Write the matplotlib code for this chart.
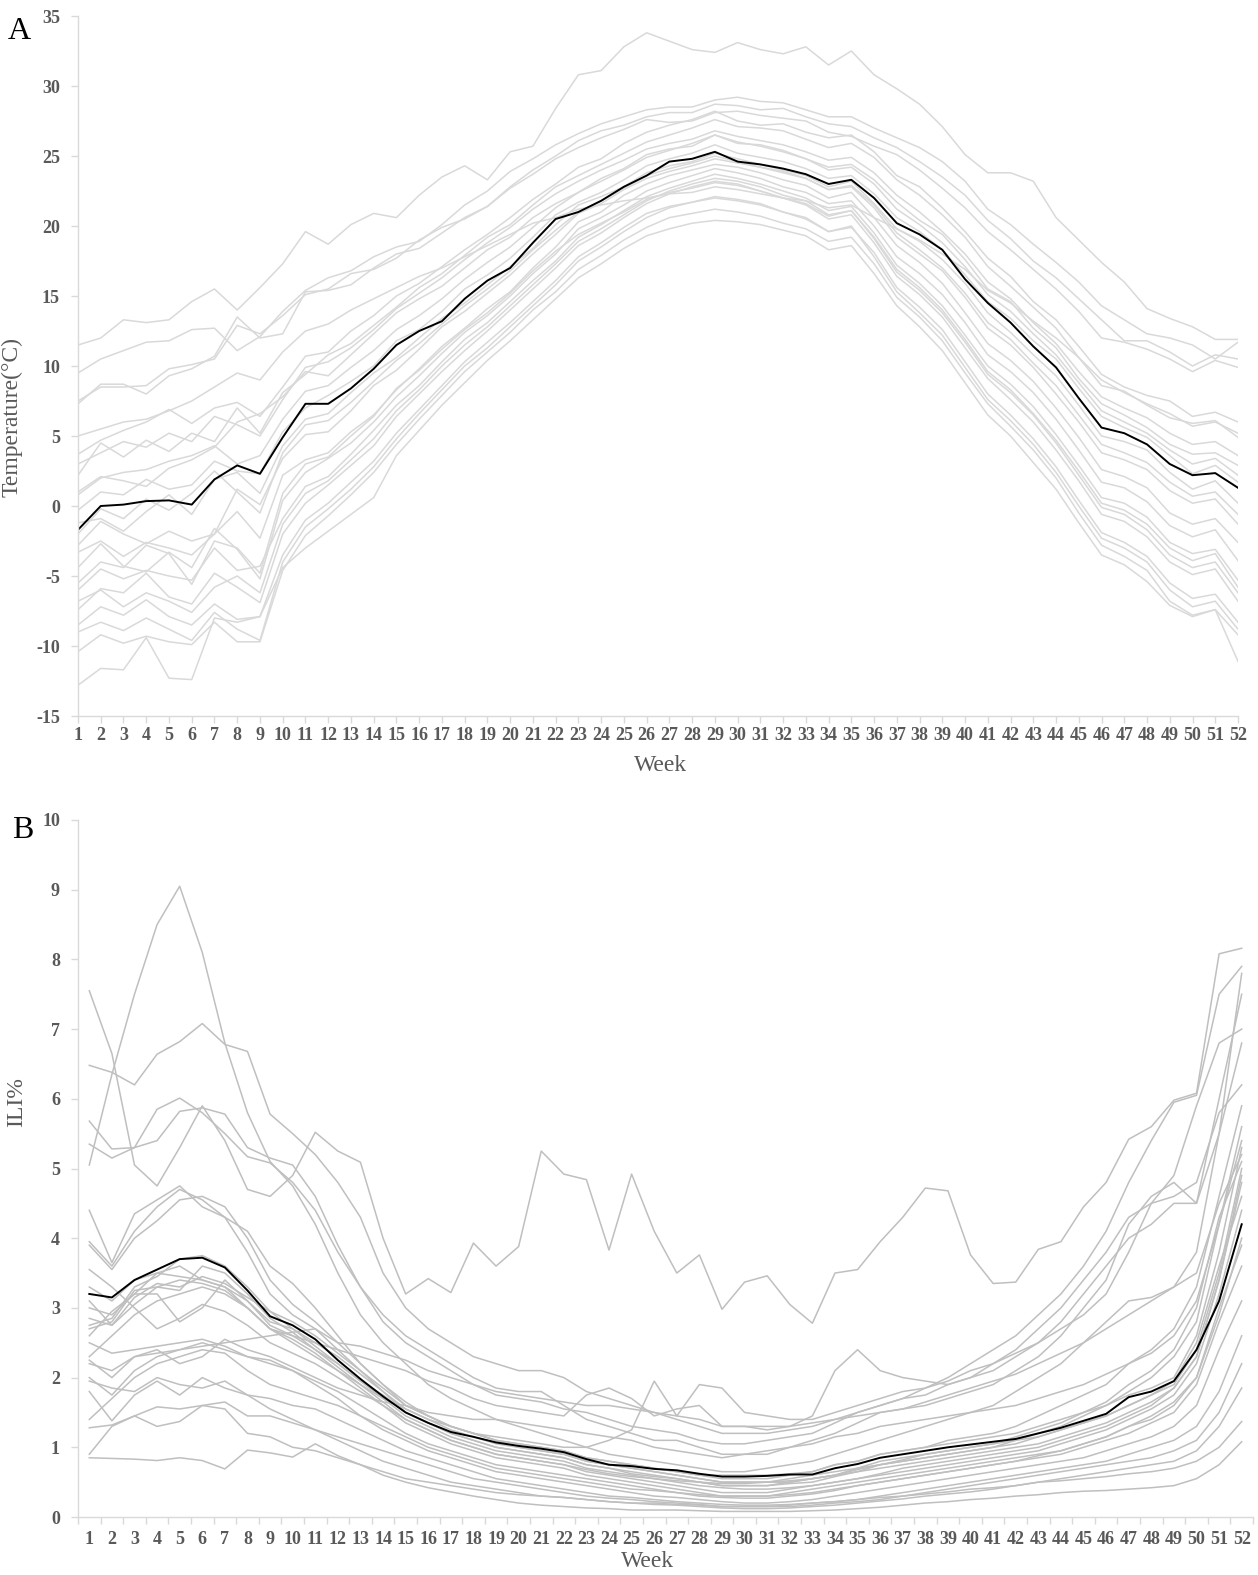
import matplotlib
matplotlib.use("Agg")
import matplotlib.pyplot as plt
from matplotlib.ticker import FixedLocator

weeks = list(range(1, 53))

# ---- panel A: weekly temperature (°C), one line per city, black = average
temp_mean = [-1.7, 0.0, 0.1, 0.35, 0.4, 0.1, 1.9, 2.9, 2.3, 4.9, 7.3, 7.3, 8.4, 9.8, 11.5, 12.5,
             13.2, 14.8, 16.1, 17.0, 18.8, 20.5, 21.0, 21.8, 22.8, 23.6, 24.6, 24.8, 25.3, 24.6,
             24.4, 24.1, 23.7, 23.0, 23.3, 22.0, 20.2, 19.4, 18.3, 16.2, 14.5, 13.1, 11.4, 9.9,
             7.7, 5.6, 5.2, 4.4, 3.0, 2.2, 2.35, 1.3]

temp_c01 = [11.5, 12.0, 13.3, 13.1, 13.3, 14.6, 15.5, 14.0, 15.6, 17.3, 19.6, 18.7, 20.1, 20.9, 20.6,
            22.2, 23.5, 24.3, 23.3, 25.3, 25.7, 28.4, 30.8, 31.1, 32.8, 33.8, 33.2, 32.6, 32.4, 33.1,
            32.6, 32.3, 32.8, 31.5, 32.5, 30.8, 29.8, 28.7, 27.1, 25.1, 23.8, 23.8, 23.2, 20.6, 19.0,
            17.4, 16.0, 14.1, 13.4, 12.8, 11.9, 11.9]
temp_c02 = [9.5, 10.5, 11.1, 11.7, 11.8, 12.6, 12.7, 11.1, 12.1, 13.9, 15.4, 16.3, 16.8, 17.8, 18.5,
            18.9, 20.1, 21.5, 22.5, 23.9, 24.8, 25.8, 26.6, 27.3, 27.8, 28.3, 28.5, 28.5, 29.0, 29.2,
            28.9, 28.8, 28.3, 27.8, 27.8, 27.0, 26.3, 25.6, 24.6, 23.2, 21.2, 20.1, 18.7, 17.4, 16.0,
            14.3, 13.3, 12.3, 12.0, 11.5, 10.5, 11.7]
temp_c03 = [7.3, 8.7, 8.7, 8.0, 9.3, 9.8, 10.7, 13.5, 12.0, 12.3, 15.3, 15.4, 15.8, 17.0, 18.0, 18.4,
            19.5, 20.6, 21.4, 22.8, 24.0, 25.0, 26.1, 26.8, 27.2, 27.8, 28.1, 28.1, 28.7, 28.6, 28.3,
            28.4, 27.8, 27.3, 27.1, 26.3, 25.6, 24.6, 23.5, 22.2, 20.4, 19.1, 17.5, 16.3, 14.8, 13.3,
            11.8, 11.8, 11.0, 10.0, 10.8, 10.5]
temp_c04 = [7.5, 8.5, 8.5, 8.6, 9.8, 10.1, 10.5, 12.9, 12.3, 13.6, 15.1, 15.5, 16.6, 16.9, 17.7, 19.0,
            19.9, 20.5, 21.4, 22.7, 23.7, 24.8, 25.6, 26.3, 26.9, 27.6, 27.4, 27.5, 28.1, 28.2, 27.9,
            27.7, 27.5, 26.7, 26.4, 25.7, 25.1, 24.0, 22.7, 21.3, 19.6, 18.3, 16.9, 15.5, 13.9, 12.0,
            11.7, 11.2, 10.5, 9.6, 10.4, 9.9]
temp_c05 = [3.7, 4.7, 5.4, 6.0, 6.9, 5.9, 7.0, 7.4, 6.4, 8.5, 10.7, 11.0, 12.5, 13.6, 15.0, 15.9, 17.1,
            18.3, 19.4, 20.6, 21.9, 23.0, 24.2, 24.8, 25.9, 26.7, 27.2, 27.6, 28.2, 27.5, 27.2, 27.3,
            26.7, 26.3, 26.5, 25.3, 23.6, 22.8, 21.3, 19.6, 17.7, 16.4, 14.6, 13.3, 11.4, 9.4, 8.5,
            7.9, 7.5, 6.4, 6.7, 6.0]
temp_c06 = [2.2, 4.5, 3.5, 4.7, 3.9, 5.2, 4.6, 7.0, 5.2, 8.1, 9.4, 10.8, 11.6, 12.9, 14.2, 15.6, 16.6,
            17.9, 19.2, 20.1, 21.5, 22.8, 23.6, 24.4, 25.2, 26.0, 26.5, 27.0, 27.6, 27.1, 27.0, 26.8,
            26.2, 25.6, 25.9, 24.9, 23.3, 22.2, 20.8, 19.2, 17.1, 15.7, 14.2, 12.7, 10.6, 8.6, 8.2,
            7.2, 6.3, 5.9, 6.1, 4.9]
temp_c07 = [1.0, 2.1, 1.8, 1.4, 2.7, 3.3, 4.2, 6.0, 6.6, 7.8, 9.6, 9.3, 10.8, 12.3, 13.8, 14.8, 15.7,
            17.0, 18.3, 19.2, 20.6, 21.6, 22.4, 23.4, 24.1, 25.1, 25.5, 25.7, 26.5, 25.9, 25.8, 25.4,
            24.8, 24.2, 24.4, 23.3, 21.7, 20.4, 19.4, 17.6, 15.5, 14.6, 12.7, 11.3, 9.1, 7.3, 6.5,
            5.6, 4.4, 3.7, 3.8, 2.9]
temp_c08 = [-0.3, 1.0, 0.8, 1.9, 1.2, 1.5, 3.2, 2.5, 2.3, 5.3, 7.0, 7.9, 8.9, 10.0, 11.8, 12.6, 13.9,
            15.5, 16.5, 17.7, 19.2, 20.8, 21.7, 22.4, 23.3, 24.3, 24.8, 25.2, 25.8, 25.2, 24.9, 24.6,
            24.1, 23.4, 23.6, 22.3, 20.6, 19.6, 18.3, 16.5, 14.6, 13.4, 11.8, 10.5, 8.4, 6.4, 5.6,
            4.9, 3.6, 2.3, 2.9, 1.7]
temp_c09 = [-1.2, -0.9, -1.8, -0.4, 0.8, -0.6, 1.9, 2.4, 0.9, 4.3, 6.2, 6.6, 8.1, 9.5, 10.6, 12.0,
            13.4, 14.5, 15.8, 17.1, 18.4, 20.1, 21.5, 22.1, 22.8, 23.8, 24.3, 24.6, 25.2, 24.8, 24.4,
            24.0, 23.6, 22.8, 23.2, 21.6, 19.8, 18.9, 17.6, 15.9, 13.8, 12.4, 10.8, 9.3, 7.2, 5.0,
            4.6, 4.0, 2.4, 1.2, 1.8, 0.2]
temp_c10 = [-2.8, -1.1, -2.0, -2.7, -1.8, -2.5, -2.0, 1.2, 0.1, 3.4, 5.1, 5.3, 6.8, 8.6, 9.7, 11.2,
            12.8, 13.9, 15.2, 16.5, 18.0, 19.4, 20.9, 21.6, 22.6, 23.4, 23.9, 24.3, 24.8, 24.5, 24.2,
            23.8, 23.4, 22.6, 22.8, 21.3, 19.2, 18.0, 16.8, 14.9, 12.7, 11.5, 9.9, 8.0, 6.0, 3.8, 3.3,
            2.6, 1.1, 0.2, 0.5, -1.3]
temp_c11 = [-3.3, -2.5, -3.6, -2.6, -3.0, -3.5, -2.0, -0.4, -2.3, 2.2, 3.3, 3.8, 5.3, 6.5, 8.3, 9.8,
            11.4, 12.7, 14.1, 15.3, 17.0, 18.5, 20.3, 21.0, 22.2, 23.0, 23.6, 24.0, 24.4, 24.2, 23.8,
            23.3, 22.9, 22.0, 22.4, 20.6, 18.6, 17.4, 15.9, 13.8, 11.6, 10.4, 8.9, 7.0, 4.9, 2.6, 2.1,
            1.3, -0.5, -1.3, -0.9, -2.6]
temp_c12 = [-4.4, -2.7, -4.3, -4.7, -3.3, -4.4, -1.6, -3.1, -5.2, 0.4, 2.4, 3.4, 4.5, 6.0, 7.8, 9.3,
            10.9, 12.4, 13.6, 15.0, 16.6, 18.0, 19.8, 20.6, 21.5, 22.5, 23.1, 23.6, 24.1, 23.8, 23.4,
            22.8, 22.4, 21.6, 21.8, 20.0, 17.8, 16.6, 15.1, 13.1, 10.8, 9.6, 8.1, 6.2, 4.0, 1.7, 1.3,
            0.3, -1.4, -2.2, -1.7, -3.9]
temp_c13 = [-6.0, -4.5, -5.2, -4.6, -5.0, -5.3, -3.0, -4.6, -4.3, -0.9, 1.4, 2.1, 3.7, 5.4, 7.2, 8.6,
            10.3, 11.9, 13.1, 14.6, 16.1, 17.5, 19.2, 20.1, 21.1, 22.1, 22.7, 23.2, 23.7, 23.4, 23.0,
            22.5, 22.0, 21.1, 21.4, 19.5, 17.2, 15.9, 14.3, 12.2, 10.0, 8.7, 7.1, 5.1, 2.9, 0.6, 0.2,
            -0.8, -2.6, -3.4, -3.1, -5.3]
temp_c14 = [-7.4, -5.9, -6.2, -4.8, -6.5, -7.0, -4.8, -5.8, -6.9, -2.0, 0.2, 1.5, 2.9, 4.3, 6.4, 8.0,
            9.6, 11.1, 12.5, 14.0, 15.5, 17.0, 18.6, 19.5, 20.6, 21.6, 22.3, 22.8, 23.2, 23.0, 22.5,
            22.0, 21.5, 20.5, 20.8, 18.8, 16.4, 15.1, 13.5, 11.3, 9.1, 7.6, 6.0, 4.0, 1.8, -0.6, -1.1,
            -2.2, -4.0, -4.9, -4.5, -6.8]
temp_c15 = [-8.5, -7.2, -7.8, -6.7, -7.9, -8.5, -7.0, -8.1, -7.9, -3.5, -1.0, 0.2, 1.7, 3.2, 5.2,
            6.9, 8.6, 10.3, 11.7, 13.1, 14.6, 16.1, 17.8, 18.8, 19.9, 20.9, 21.4, 21.7, 22.0, 21.8,
            21.5, 21.0, 20.5, 19.6, 19.9, 18.1, 15.6, 14.2, 12.6, 10.3, 8.0, 6.5, 4.8, 2.8, 0.4, -1.9,
            -2.6, -3.6, -5.5, -6.6, -6.3, -8.3]
temp_c16 = [-10.4, -9.2, -9.8, -9.3, -9.7, -9.9, -8.3, -9.7, -9.7, -4.6, -2.1, -0.7, 0.8, 2.4, 4.4,
            6.2, 7.9, 9.6, 11.0, 12.4, 14.0, 15.3, 16.9, 17.9, 19.0, 19.9, 20.6, 20.9, 21.2, 21.0,
            20.7, 20.2, 19.8, 18.9, 19.2, 17.3, 14.9, 13.5, 11.8, 9.5, 7.3, 5.7, 4.0, 2.0, -0.5, -2.8,
            -3.6, -4.6, -6.8, -7.8, -7.4, -9.2]
temp_c17 = [-12.8, -11.6, -11.7, -9.4, -12.3, -12.4, -8.0, -8.3, -7.9, -4.4, -3.0, -1.8, -0.6, 0.6,
            3.6, 5.4, 7.2, 8.8, 10.4, 11.8, 13.3, 14.8, 16.3, 17.3, 18.4, 19.3, 19.8, 20.2, 20.4, 20.3,
            20.1, 19.7, 19.3, 18.3, 18.6, 16.6, 14.3, 12.8, 11.1, 8.8, 6.5, 5.0, 3.1, 1.2, -1.2, -3.5,
            -4.2, -5.4, -7.1, -7.9, -7.4, -11.1]
temp_c18 = [0.8, 2.0, 2.4, 2.6, 3.2, 3.6, 4.3, 3.0, 3.6, 6.2, 8.2, 8.6, 9.9, 11.1, 12.6, 13.6, 14.8,
            16.2, 17.4, 18.5, 19.9, 21.3, 22.4, 23.2, 24.0, 24.9, 25.4, 25.9, 26.5, 26.0, 25.7, 25.3,
            24.8, 24.0, 24.2, 23.0, 21.2, 20.1, 18.8, 17.1, 15.1, 13.9, 12.3, 10.8, 8.8, 6.8, 6.0,
            5.2, 4.0, 3.0, 3.4, 2.2]
temp_c19 = [-5.5, -4.0, -4.4, -2.8, -3.4, -5.6, -2.5, -3.0, -4.8, 0.9, 3.0, 3.5, 5.0, 6.4, 8.4, 9.7,
            11.2, 12.6, 13.8, 15.2, 16.8, 18.2, 19.4, 20.2, 21.0, 21.9, 22.4, 22.7, 23.1, 22.9, 22.5,
            22.0, 21.6, 20.7, 21.1, 19.2, 16.9, 15.6, 14.0, 11.9, 9.6, 8.3, 6.6, 4.7, 2.5, 0.2, -0.3,
            -1.3, -3.0, -3.9, -3.4, -5.8]
temp_c20 = [5.0, 5.5, 6.0, 6.2, 6.8, 7.5, 8.5, 9.5, 9.0, 11.0, 12.5, 13.0, 14.0, 14.8, 15.6, 16.4,
            17.0, 17.8, 18.6, 19.4, 20.2, 20.6, 21.2, 21.5, 21.8, 22.0, 22.3, 22.4, 22.8, 22.6, 22.3,
            22.0, 21.8, 21.3, 21.5, 20.6, 19.8, 19.0, 18.0, 16.9, 15.4, 14.5, 13.2, 12.0, 10.6, 9.0,
            8.1, 7.3, 6.6, 5.7, 6.0, 5.2]
temp_c21 = [3.0, 3.8, 4.6, 4.2, 5.2, 4.6, 6.4, 5.8, 5.0, 7.6, 9.9, 10.3, 11.3, 12.6, 14.1, 15.2, 16.3,
            17.6, 18.8, 19.9, 21.2, 22.3, 23.2, 24.0, 24.7, 25.5, 25.9, 26.2, 26.8, 26.4, 26.1, 25.8,
            25.3, 24.7, 24.9, 23.8, 22.2, 21.0, 19.6, 18.0, 16.0, 14.8, 13.1, 11.6, 9.6, 7.8, 7.0,
            6.3, 5.2, 4.4, 4.6, 3.6]
temp_c22 = [-2.0, -0.2, -0.9, 0.5, -0.3, 0.9, 2.5, 1.0, -0.5, 3.8, 5.8, 6.1, 7.4, 8.9, 10.4, 11.6,
            13.0, 14.3, 15.5, 16.8, 18.3, 19.7, 21.0, 21.8, 22.7, 23.6, 24.1, 24.5, 25.0, 24.6, 24.2,
            23.9, 23.4, 22.6, 22.9, 21.5, 19.5, 18.3, 17.0, 15.2, 13.1, 11.9, 10.2, 8.6, 6.5, 4.4,
            3.8, 3.1, 1.7, 0.7, 1.0, -0.6]
temp_c23 = [-6.8, -6.0, -7.2, -6.2, -6.8, -7.6, -5.8, -5.0, -6.2, -1.3, 0.9, 1.8, 3.3, 4.8, 6.8, 8.3,
            10.0, 11.5, 12.8, 14.3, 15.8, 17.3, 18.9, 19.8, 20.8, 21.8, 22.5, 23.0, 23.4, 23.2, 22.8,
            22.2, 21.8, 20.8, 21.1, 19.1, 16.7, 15.4, 13.8, 11.7, 9.4, 8.1, 6.5, 4.5, 2.2, -0.1, -0.6,
            -1.7, -3.5, -4.4, -4.0, -6.2]
temp_c24 = [-9.0, -8.3, -8.9, -8.0, -8.8, -9.6, -7.6, -8.8, -9.6, -4.0, -1.5, -0.2, 1.2, 2.8, 4.8, 6.6,
            8.3, 10.0, 11.3, 12.8, 14.3, 15.8, 17.5, 18.5, 19.6, 20.6, 21.3, 21.7, 22.1, 21.9, 21.6,
            21.0, 20.6, 19.6, 20.0, 17.8, 15.3, 13.8, 12.2, 9.9, 7.6, 6.1, 4.4, 2.4, 0.0, -2.3, -3.0,
            -4.0, -6.0, -7.2, -6.8, -8.8]

temp_cities = [temp_c01, temp_c02, temp_c03, temp_c04, temp_c05, temp_c06, temp_c07, temp_c08,
               temp_c09, temp_c10, temp_c11, temp_c12, temp_c13, temp_c14, temp_c15, temp_c16,
               temp_c17, temp_c18, temp_c19, temp_c20, temp_c21, temp_c22, temp_c23, temp_c24]

# ---- panel B: weekly ILI%, one line per city, black = average
ili_mean = [3.2, 3.15, 3.4, 3.55, 3.7, 3.72, 3.58, 3.25, 2.88, 2.75, 2.55, 2.25, 1.98, 1.73, 1.5,
            1.35, 1.22, 1.15, 1.07, 1.02, 0.98, 0.93, 0.83, 0.75, 0.73, 0.69, 0.67, 0.62, 0.58, 0.58,
            0.59, 0.61, 0.61, 0.7, 0.76, 0.85, 0.9, 0.95, 1.0, 1.04, 1.08, 1.12, 1.2, 1.28, 1.38,
            1.48, 1.72, 1.8, 1.95, 2.4, 3.1, 4.2]

ili_c01 = [5.05, 6.35, 7.5, 8.5, 9.05, 8.1, 6.8, 5.8, 5.1, 4.75, 4.2, 3.5, 2.9, 2.5, 2.2, 1.9, 1.7,
           1.55, 1.4, 1.3, 1.2, 1.1, 1.0, 0.9, 0.85, 0.8, 0.75, 0.7, 0.65, 0.65, 0.7, 0.75, 0.8, 0.9,
           1.0, 1.1, 1.2, 1.3, 1.4, 1.5, 1.6, 1.8, 2.0, 2.2, 2.5, 2.8, 3.1, 3.15, 3.3, 3.8, 5.5, 7.8]
ili_c02 = [6.48, 6.38, 6.2, 6.64, 6.82, 7.08, 6.78, 6.68, 5.78, 5.5, 5.2, 4.8, 4.3, 3.5, 3.0, 2.7,
           2.5, 2.3, 2.2, 2.1, 2.1, 2.0, 1.8, 1.7, 1.6, 1.5, 1.4, 1.3, 1.2, 1.2, 1.2, 1.25, 1.3, 1.4,
           1.5, 1.6, 1.7, 1.85, 2.0, 2.2, 2.4, 2.6, 2.9, 3.2, 3.6, 4.1, 4.8, 5.4, 5.95, 6.05, 7.5, 7.9]
ili_c03 = [7.55, 6.65, 5.05, 4.75, 5.3, 5.9, 5.4, 4.7, 4.6, 4.9, 5.52, 5.25, 5.09, 4.0, 3.2, 3.42,
           3.22, 3.93, 3.6, 3.88, 5.25, 4.92, 4.84, 3.83, 4.92, 4.1, 3.5, 3.76, 2.98, 3.37, 3.46,
           3.05, 2.78, 3.5, 3.55, 3.95, 4.3, 4.72, 4.68, 3.76, 3.35, 3.37, 3.84, 3.95, 4.45, 4.8,
           5.42, 5.6, 5.98, 6.08, 8.08, 8.16]
ili_c04 = [5.68, 5.28, 5.3, 5.4, 5.82, 5.87, 5.78, 5.3, 5.15, 5.05, 4.6, 3.9, 3.3, 2.9, 2.6, 2.4,
           2.2, 2.0, 1.85, 1.8, 1.8, 1.6, 1.4, 1.3, 1.2, 1.1, 1.1, 1.0, 0.9, 0.9, 0.9, 1.0, 1.1, 1.2,
           1.35, 1.5, 1.55, 1.6, 1.7, 1.8, 1.9, 2.1, 2.3, 2.6, 3.0, 3.4, 4.2, 4.6, 4.8, 4.5, 6.0, 7.5]
ili_c05 = [5.35, 5.15, 5.3, 5.85, 6.01, 5.8, 5.5, 5.17, 5.08, 4.8, 4.4, 3.8, 3.3, 2.8, 2.5, 2.3,
           2.1, 1.9, 1.75, 1.7, 1.65, 1.55, 1.5, 1.4, 1.3, 1.25, 1.2, 1.1, 1.05, 1.05, 1.1, 1.15,
           1.2, 1.35, 1.5, 1.6, 1.7, 1.75, 1.9, 2.0, 2.2, 2.4, 2.7, 3.0, 3.4, 3.8, 4.3, 4.5, 4.9,
           5.9, 6.8, 7.0]
ili_c06 = [4.4, 3.65, 4.35, 4.55, 4.75, 4.45, 4.3, 4.1, 3.6, 3.35, 3.0, 2.6, 2.2, 1.9, 1.6, 1.45,
           1.3, 1.2, 1.1, 1.05, 1.0, 0.95, 0.85, 0.8, 0.75, 0.7, 0.65, 0.6, 0.55, 0.55, 0.55, 0.6,
           0.65, 0.75, 0.8, 0.9, 0.95, 1.0, 1.1, 1.15, 1.2, 1.3, 1.45, 1.6, 1.75, 1.9, 2.2, 2.4,
           2.7, 3.3, 4.6, 5.9]
ili_c07 = [3.95, 3.6, 4.1, 4.45, 4.7, 4.55, 4.3, 3.8, 3.2, 2.9, 2.7, 2.4, 2.1, 1.8, 1.5, 1.35, 1.2,
           1.1, 1.0, 0.95, 0.9, 0.85, 0.75, 0.7, 0.65, 0.6, 0.55, 0.5, 0.45, 0.45, 0.45, 0.5, 0.55,
           0.6, 0.65, 0.75, 0.8, 0.85, 0.9, 0.95, 1.0, 1.1, 1.2, 1.3, 1.45, 1.6, 1.8, 2.0, 2.3, 2.8,
           4.2, 5.4]
ili_c08 = [3.9, 3.55, 4.0, 4.25, 4.55, 4.6, 4.45, 4.0, 3.4, 3.05, 2.8, 2.5, 2.2, 1.9, 1.65, 1.45,
           1.3, 1.2, 1.1, 1.0, 0.95, 0.9, 0.8, 0.75, 0.7, 0.65, 0.6, 0.55, 0.5, 0.5, 0.5, 0.55, 0.6,
           0.65, 0.7, 0.8, 0.85, 0.9, 0.95, 1.0, 1.05, 1.15, 1.25, 1.35, 1.5, 1.65, 1.9, 2.1, 2.4,
           3.0, 4.3, 5.1]
ili_c09 = [3.0, 2.9, 3.2, 3.5, 3.45, 3.4, 3.3, 3.1, 2.8, 2.7, 2.5, 2.3, 2.05, 1.8, 1.55, 1.4, 1.25,
           1.15, 1.05, 1.0, 0.95, 0.9, 0.8, 0.75, 0.7, 0.65, 0.6, 0.55, 0.5, 0.5, 0.5, 0.5, 0.55,
           0.6, 0.7, 0.75, 0.8, 0.85, 0.9, 0.95, 1.0, 1.05, 1.15, 1.25, 1.35, 1.45, 1.6, 1.75, 1.95,
           2.5, 3.6, 4.6]
ili_c10 = [2.85, 2.75, 3.05, 3.3, 3.25, 3.6, 3.5, 3.2, 2.85, 2.65, 2.4, 2.15, 1.9, 1.65, 1.4, 1.25,
           1.1, 1.0, 0.9, 0.85, 0.8, 0.75, 0.65, 0.6, 0.55, 0.5, 0.45, 0.4, 0.35, 0.35, 0.35, 0.4,
           0.45, 0.5, 0.55, 0.6, 0.65, 0.7, 0.75, 0.8, 0.85, 0.9, 0.95, 1.05, 1.15, 1.25, 1.4, 1.55,
           1.75, 2.2, 3.2, 4.4]
ili_c11 = [2.7, 2.8, 3.25, 3.3, 3.4, 3.35, 3.25, 3.0, 2.7, 2.55, 2.35, 2.1, 1.85, 1.6, 1.35, 1.2,
           1.05, 0.95, 0.85, 0.8, 0.75, 0.7, 0.6, 0.55, 0.5, 0.45, 0.4, 0.35, 0.3, 0.3, 0.3, 0.35,
           0.4, 0.45, 0.5, 0.55, 0.6, 0.65, 0.7, 0.75, 0.8, 0.85, 0.9, 0.95, 1.05, 1.15, 1.3, 1.45,
           1.65, 2.0, 3.0, 3.9]
ili_c12 = [2.5, 2.35, 2.4, 2.45, 2.5, 2.55, 2.45, 2.3, 2.2, 2.1, 1.95, 1.8, 1.6, 1.4, 1.2, 1.05,
           0.95, 0.85, 0.75, 0.7, 0.65, 0.6, 0.55, 0.5, 0.45, 0.4, 0.35, 0.3, 0.28, 0.27, 0.27, 0.3,
           0.33, 0.38, 0.45, 0.5, 0.55, 0.6, 0.65, 0.7, 0.75, 0.8, 0.85, 0.9, 1.0, 1.1, 1.2, 1.35,
           1.5, 1.9, 2.8, 3.6]
ili_c13 = [2.2, 2.1, 2.3, 2.35, 2.4, 2.5, 2.4, 2.3, 2.25, 2.1, 1.9, 1.7, 1.45, 1.25, 1.1, 0.95, 0.85,
           0.75, 0.65, 0.6, 0.55, 0.5, 0.45, 0.4, 0.35, 0.3, 0.28, 0.25, 0.22, 0.2, 0.2, 0.22, 0.25,
           0.3, 0.35, 0.4, 0.45, 0.5, 0.55, 0.6, 0.65, 0.7, 0.75, 0.8, 0.85, 0.95, 1.05, 1.15, 1.3,
           1.6, 2.4, 3.1]
ili_c14 = [1.95, 1.85, 1.8, 2.0, 1.9, 1.85, 1.95, 1.75, 1.7, 1.6, 1.55, 1.4, 1.25, 1.1, 0.95, 0.85,
           0.75, 0.65, 0.55, 0.5, 0.45, 0.4, 0.35, 0.3, 0.28, 0.25, 0.22, 0.2, 0.18, 0.17, 0.17, 0.18,
           0.2, 0.22, 0.25, 0.3, 0.35, 0.4, 0.45, 0.5, 0.55, 0.6, 0.65, 0.7, 0.75, 0.8, 0.9, 1.0, 1.1,
           1.3, 1.8, 2.6]
ili_c15 = [1.8, 1.38, 1.75, 1.95, 1.75, 2.0, 1.85, 1.75, 1.55, 1.4, 1.25, 1.15, 1.05, 0.95, 0.85,
           0.75, 0.65, 0.55, 0.5, 0.45, 0.4, 0.35, 0.3, 0.27, 0.25, 0.22, 0.2, 0.18, 0.15, 0.15, 0.15,
           0.15, 0.17, 0.2, 0.22, 0.25, 0.3, 0.35, 0.4, 0.45, 0.5, 0.55, 0.6, 0.65, 0.7, 0.75, 0.8,
           0.85, 0.95, 1.1, 1.5, 2.2]
ili_c16 = [1.28, 1.32, 1.45, 1.3, 1.37, 1.6, 1.55, 1.2, 1.15, 1.0, 0.95, 0.85, 0.75, 0.65, 0.55, 0.5,
           0.45, 0.4, 0.35, 0.32, 0.3, 0.28, 0.25, 0.22, 0.2, 0.18, 0.17, 0.15, 0.13, 0.12, 0.12, 0.13,
           0.15, 0.17, 0.2, 0.23, 0.26, 0.3, 0.33, 0.36, 0.4, 0.45, 0.5, 0.55, 0.6, 0.65, 0.7, 0.75,
           0.8, 0.95, 1.3, 1.85]
ili_c17 = [0.9, 1.3, 1.45, 1.58, 1.55, 1.6, 1.65, 1.45, 1.45, 1.35, 1.25, 1.1, 0.95, 0.8, 0.7, 0.6,
           0.5, 0.45, 0.4, 0.35, 0.3, 0.28, 0.25, 0.22, 0.2, 0.2, 0.18, 0.17, 0.15, 0.15, 0.15, 0.17,
           0.2, 0.22, 0.25, 0.28, 0.3, 0.33, 0.36, 0.4, 0.42, 0.45, 0.5, 0.52, 0.55, 0.58, 0.62, 0.65,
           0.7, 0.8, 1.0, 1.37]
ili_c18 = [0.85, 0.84, 0.83, 0.81, 0.85, 0.81, 0.69, 0.96, 0.92, 0.86, 1.05, 0.88, 0.75, 0.6, 0.5,
           0.42, 0.36, 0.3, 0.25, 0.2, 0.17, 0.15, 0.13, 0.12, 0.1, 0.1, 0.1, 0.09, 0.08, 0.08, 0.08,
           0.08, 0.09, 0.1, 0.12, 0.14, 0.17, 0.2, 0.22, 0.25, 0.27, 0.3, 0.32, 0.35, 0.37, 0.38, 0.4,
           0.42, 0.45, 0.55, 0.75, 1.08]
ili_c19 = [3.3, 3.1, 3.4, 3.5, 3.6, 3.4, 3.3, 3.0, 2.7, 2.6, 2.5, 2.4, 2.3, 2.2, 2.1, 1.95, 1.85, 1.7,
           1.6, 1.55, 1.5, 1.45, 1.75, 1.85, 1.7, 1.45, 1.55, 1.6, 1.3, 1.3, 1.25, 1.3, 1.45, 2.1, 2.4,
           2.1, 2.0, 1.95, 1.9, 2.0, 2.1, 2.3, 2.5, 2.8, 3.2, 3.6, 4.0, 4.2, 4.5, 4.5, 5.5, 6.8]
ili_c20 = [2.3, 2.6, 2.9, 3.1, 3.2, 3.3, 3.2, 3.0, 2.7, 2.5, 2.3, 2.1, 1.9, 1.7, 1.55, 1.4, 1.3, 1.2,
           1.15, 1.1, 1.05, 1.0, 1.0, 1.1, 1.25, 1.95, 1.45, 1.9, 1.85, 1.5, 1.45, 1.4, 1.4, 1.5, 1.6,
           1.7, 1.8, 1.85, 1.95, 2.1, 2.2, 2.35, 2.5, 2.7, 2.9, 3.2, 3.8, 4.5, 4.6, 4.8, 5.8, 6.2]
ili_c21 = [2.75, 2.85, 3.3, 3.45, 3.7, 3.75, 3.6, 3.3, 2.95, 2.8, 2.6, 2.35, 2.1, 1.85, 1.6, 1.45,
           1.3, 1.2, 1.1, 1.05, 1.0, 0.95, 0.85, 0.8, 0.75, 0.7, 0.65, 0.6, 0.6, 0.6, 0.6, 0.62, 0.65,
           0.75, 0.8, 0.9, 0.95, 1.0, 1.05, 1.1, 1.15, 1.2, 1.3, 1.4, 1.5, 1.6, 1.75, 1.85, 2.0, 2.6,
           3.8, 5.3]
ili_c22 = [1.4, 1.7, 2.0, 2.2, 2.3, 2.4, 2.35, 2.1, 1.9, 1.8, 1.7, 1.6, 1.45, 1.3, 1.15, 1.0, 0.9,
           0.8, 0.7, 0.65, 0.6, 0.55, 0.5, 0.45, 0.4, 0.38, 0.35, 0.32, 0.3, 0.3, 0.3, 0.32, 0.35, 0.4,
           0.45, 0.5, 0.55, 0.6, 0.65, 0.7, 0.75, 0.8, 0.88, 0.95, 1.05, 1.15, 1.3, 1.4, 1.6, 2.0,
           2.9, 4.0]
ili_c23 = [3.1, 2.75, 3.15, 3.35, 3.3, 3.45, 3.35, 3.15, 2.95, 2.7, 2.45, 2.2, 1.95, 1.7, 1.45, 1.3,
           1.15, 1.05, 0.95, 0.9, 0.85, 0.8, 0.7, 0.65, 0.6, 0.55, 0.5, 0.45, 0.42, 0.4, 0.4, 0.42,
           0.45, 0.5, 0.55, 0.62, 0.7, 0.75, 0.8, 0.85, 0.9, 0.95, 1.0, 1.1, 1.2, 1.3, 1.45, 1.6,
           1.85, 2.3, 3.4, 4.8]
ili_c24 = [2.6, 2.95, 3.2, 3.2, 2.8, 3.0, 3.4, 3.1, 2.75, 2.6, 2.4, 2.2, 1.95, 1.75, 1.5, 1.35, 1.2,
           1.1, 1.0, 0.95, 0.9, 0.85, 0.75, 0.7, 0.62, 0.58, 0.55, 0.5, 0.45, 0.45, 0.45, 0.48, 0.5,
           0.58, 0.65, 0.7, 0.75, 0.8, 0.85, 0.9, 0.95, 1.0, 1.05, 1.15, 1.25, 1.35, 1.5, 1.65, 1.85,
           2.3, 3.4, 4.9]
ili_c25 = [2.25, 2.0, 2.3, 2.4, 2.2, 2.3, 2.55, 2.4, 2.3, 2.15, 2.0, 1.85, 1.75, 1.65, 1.6, 1.5,
           1.45, 1.4, 1.4, 1.35, 1.3, 1.25, 1.2, 1.15, 1.1, 1.0, 0.95, 0.9, 0.85, 0.9, 0.95, 1.0, 1.05,
           1.15, 1.2, 1.3, 1.35, 1.4, 1.45, 1.5, 1.55, 1.6, 1.7, 1.8, 1.9, 2.05, 2.2, 2.35, 2.6, 3.1,
           4.2, 5.6]
ili_c26 = [3.55, 3.3, 3.0, 2.7, 2.85, 3.05, 2.95, 2.75, 2.5, 2.35, 2.2, 2.0, 1.8, 1.6, 1.4, 1.25,
           1.1, 1.0, 0.9, 0.85, 0.8, 0.75, 0.68, 0.62, 0.58, 0.55, 0.52, 0.5, 0.48, 0.48, 0.5, 0.52,
           0.55, 0.6, 0.68, 0.75, 0.82, 0.9, 0.95, 1.0, 1.05, 1.1, 1.15, 1.25, 1.35, 1.45, 1.6, 1.75,
           1.9, 2.4, 3.5, 5.0]
ili_c27 = [2.0, 1.75, 2.1, 2.3, 2.4, 2.45, 2.5, 2.55, 2.6, 2.65, 2.7, 2.5, 2.45, 2.35, 2.25, 2.1,
           2.0, 1.9, 1.8, 1.75, 1.7, 1.65, 1.6, 1.6, 1.55, 1.5, 1.45, 1.4, 1.3, 1.3, 1.3, 1.3, 1.35,
           1.4, 1.45, 1.5, 1.55, 1.65, 1.75, 1.85, 1.95, 2.05, 2.2, 2.35, 2.5, 2.7, 2.9, 3.1, 3.3,
           3.5, 4.5, 5.2]

ili_cities = [ili_c01, ili_c02, ili_c03, ili_c04, ili_c05, ili_c06, ili_c07, ili_c08, ili_c09,
              ili_c10, ili_c11, ili_c12, ili_c13, ili_c14, ili_c15, ili_c16, ili_c17, ili_c18,
              ili_c19, ili_c20, ili_c21, ili_c22, ili_c23, ili_c24, ili_c25, ili_c26, ili_c27]

SERIF = ["Liberation Serif", "DejaVu Serif"]
TXT = "#595959"
AXC = "#d9d9d9"

plt.rcParams["font.family"] = SERIF
plt.rcParams["axes.unicode_minus"] = False

fig = plt.figure(figsize=(12.58, 15.75), dpi=100)
ax_a = fig.add_axes([78 / 1258, 1 - 716 / 1575, 1160 / 1258, 700 / 1575])
ax_b = fig.add_axes([78 / 1258, 1 - 1517 / 1575, 1175 / 1258, 697 / 1575])


def style_axes(ax):
    for side in ("top", "right"):
        ax.spines[side].set_visible(False)
    for side in ("left", "bottom"):
        ax.spines[side].set_color(AXC)
        ax.spines[side].set_linewidth(1.0)
    ax.tick_params(axis="both", which="both", colors=AXC, labelcolor=TXT, length=5, width=1.0)
    ax.tick_params(axis="y", pad=8)
    for lab in ax.get_xticklabels() + ax.get_yticklabels():
        lab.set_fontweight("bold")
        lab.set_fontsize(13)


# panel A
for vals in temp_cities:
    ax_a.plot(weeks, vals, color="#d9d9d9", lw=1.1)
ax_a.plot(weeks, temp_mean, color="black", lw=1.4)
ax_a.set_xlim(1, 52)
ax_a.set_ylim(-15, 35)
ax_a.set_yticks(range(-15, 36, 5))
ax_a.set_xticks(weeks)
ax_a.set_xticklabels([str(w) for w in weeks])
ax_a.tick_params(axis="x", pad=3)
style_axes(ax_a)
ax_a.set_xlabel("Week", fontsize=17, color=TXT)
ax_a.xaxis.set_label_coords(0.5026, -0.055)
ax_a.set_ylabel("Temperature(°C)", fontsize=17, color=TXT)
ax_a.yaxis.set_label_coords(-0.048, 0.427)

# panel B
for vals in ili_cities:
    ax_b.plot(weeks, vals, color="#bfbfbf", lw=1.1)
ax_b.plot(weeks, ili_mean, color="black", lw=1.4)
ax_b.set_xlim(0.5, 52.5)
ax_b.set_ylim(0, 10)
ax_b.set_yticks(range(0, 11))
ax_b.set_xticks(weeks)
ax_b.set_xticklabels([str(w) for w in weeks])
ax_b.xaxis.set_minor_locator(FixedLocator([w + 0.5 for w in range(0, 53)]))
style_axes(ax_b)
ax_b.tick_params(axis="x", which="major", length=0, pad=10)
ax_b.set_xlabel("Week", fontsize=17, color=TXT)
ax_b.xaxis.set_label_coords(0.485, -0.049)
ax_b.set_ylabel("ILI%", fontsize=17, color=TXT)
ax_b.yaxis.set_label_coords(-0.043, 0.595)

fig.text(8 / 1258, 1 - 39 / 1575, "A", fontsize=23, color="black", va="baseline", ha="left")
fig.text(12 / 1258, 1 - 838 / 1575, "B", fontsize=23, color="black", va="baseline", ha="left")

fig.savefig("out.png", dpi=100)
